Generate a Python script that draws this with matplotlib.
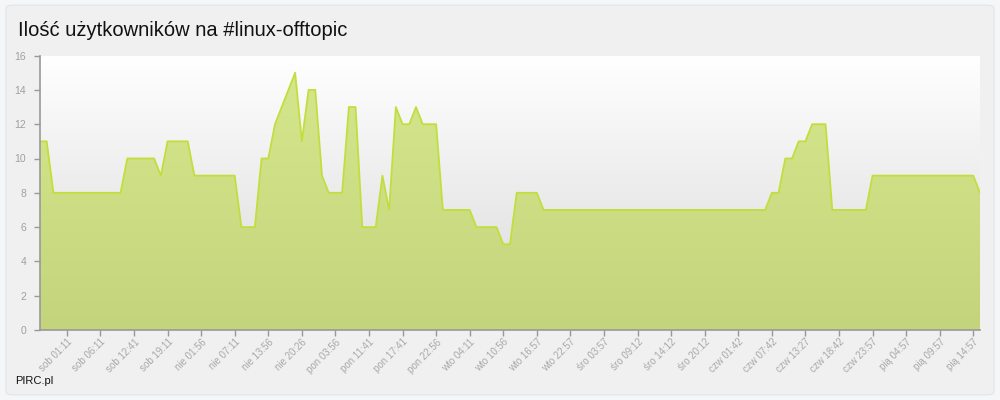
import numpy as np
import matplotlib
matplotlib.use('Agg')
import matplotlib.pyplot as plt
from matplotlib.patches import FancyBboxPatch

# users on channel, one sample per point
users = [11, 11, 8, 8, 8, 8, 8, 8, 8, 8, 8, 8, 8, 10, 10, 10, 10, 10, 9, 11,
         11, 11, 11, 9, 9, 9, 9, 9, 9, 9, 6, 6, 6, 10, 10, 12, 13, 14, 15, 11,
         14, 14, 9, 8, 8, 8, 13, 13, 6, 6, 6, 9, 7, 13, 12, 12, 13, 12, 12, 12,
         7, 7, 7, 7, 7, 6, 6, 6, 6, 5, 5, 8, 8, 8, 8] + [7] * 34 + \
        [8, 8, 10, 10, 11, 11, 12, 12, 12, 7, 7, 7, 7, 7, 7] + [9] * 16 + [8]

tick_labels = ['sob 01:11', 'sob 06:11', 'sob 12:41', 'sob 19:11',
               'nie 01:56', 'nie 07:11', 'nie 13:56', 'nie 20:26',
               'pon 03:56', 'pon 11:41', 'pon 17:41', 'pon 22:56',
               'wto 04:11', 'wto 10:56', 'wto 16:57', 'wto 22:57',
               'śro 03:57', 'śro 09:12', 'śro 14:12', 'śro 20:12',
               'czw 01:42', 'czw 07:42', 'czw 13:27', 'czw 18:42',
               'czw 23:57', 'pią 04:57', 'pią 09:57', 'pią 14:57']
tick_pos = [4 + 5 * k for k in range(len(tick_labels))]

plt.rcParams['font.family'] = ['Liberation Sans', 'DejaVu Sans']

fig = plt.figure(figsize=(10, 4), dpi=100)
fig.patch.set_facecolor('#f5f6f8')
panel = FancyBboxPatch((0.006, 0.013), 0.988, 0.974,
                       boxstyle='round,pad=0,rounding_size=0.008',
                       transform=fig.transFigure, facecolor='#f0f0f0',
                       edgecolor='#e4e6ea', linewidth=1, zorder=-5)
fig.patches.append(panel)

fig.text(0.018, 0.923, 'Ilość użytkowników na #linux-offtopic',
         fontsize=14.5, color='#111111', va='center', ha='left')
fig.text(0.015, 0.048, 'PIRC.pl', fontsize=8, color='#111111', va='center')

ax = fig.add_axes([0.04, 0.175, 0.94, 0.686])
ax.set_zorder(3)
x = np.arange(len(users))
y = np.array(users)
xmax = len(users) - 1

# plot background gradient
bg = np.linspace(1, 0, 256).reshape(-1, 1)
bg_cols = np.array([1.0, 1.0, 1.0]) * bg + np.array([0.85, 0.85, 0.85]) * (1 - bg)
ax.imshow(bg_cols.reshape(256, 1, 3), extent=[0, xmax, 0, 16], aspect='auto',
          origin='upper', zorder=0)

# green area gradient, clipped to the area polygon
poly = ax.fill_between(x, y, 0, color='none', zorder=1)
g = np.linspace(0, 1, 256).reshape(-1, 1)
top = np.array([0xd6, 0xe8, 0x8e]) / 255
bot = np.array([0xc4, 0xd4, 0x7c]) / 255
gcols = top * (1 - g) + bot * g
im = ax.imshow(gcols.reshape(256, 1, 3), extent=[0, xmax, 0, 16],
               aspect='auto', origin='upper', zorder=1)
im.set_clip_path(poly.get_paths()[0], transform=ax.transData)
ax.plot(x, y, color='#c2de3e', linewidth=1.3, zorder=2)

ax.set_xlim(0, xmax)
ax.set_ylim(0, 16)
ax.set_yticks(range(0, 17, 2))
ax.set_xticks(tick_pos)
ax.set_xticklabels(tick_labels, rotation=45, ha='right', rotation_mode='anchor')

for s in ['top', 'right']:
    ax.spines[s].set_visible(False)
for s in ['left', 'bottom']:
    ax.spines[s].set_color('#999999')
    ax.spines[s].set_linewidth(1.2)
ax.tick_params(axis='both', colors='#999999', labelsize=7.5, length=4, width=1)
ax.tick_params(axis='y', pad=6, labelcolor='#a0a0a0')
ax.tick_params(axis='x', pad=1, labelsize=7, labelcolor='#a8a8a8')

fig.savefig('out.png', dpi=100, facecolor=fig.get_facecolor())
